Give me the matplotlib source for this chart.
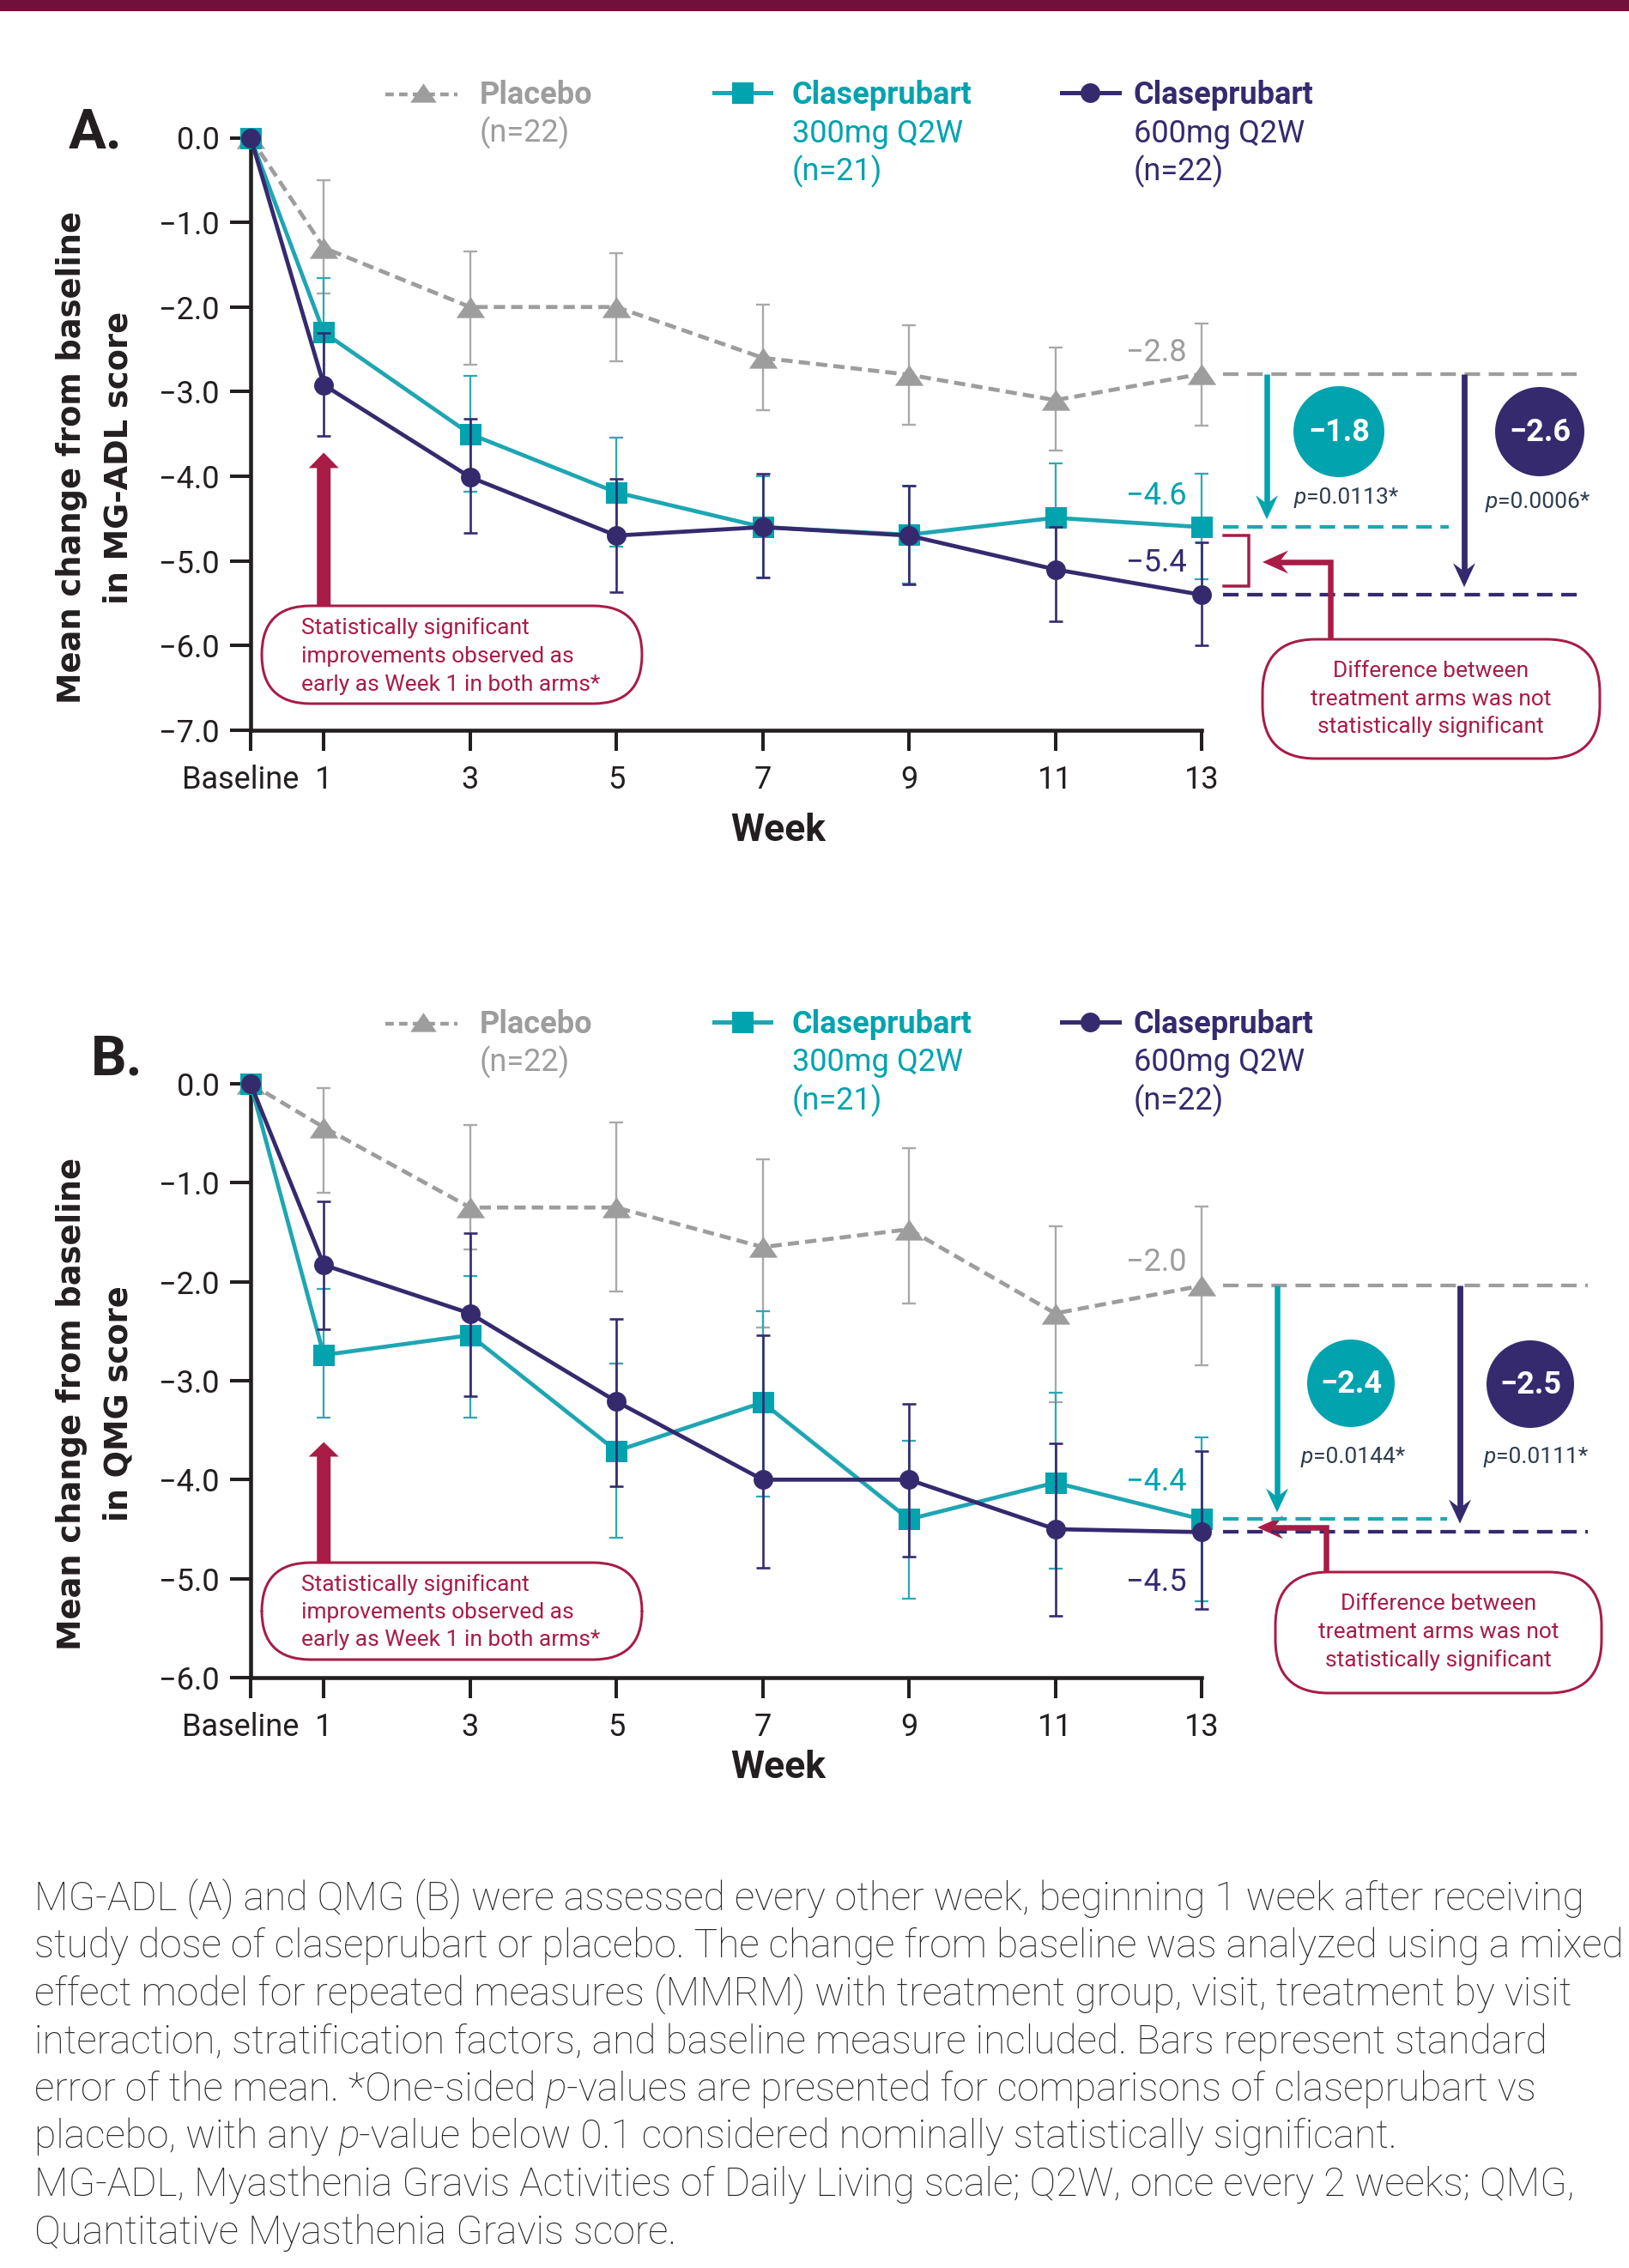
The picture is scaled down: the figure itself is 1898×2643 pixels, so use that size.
import numpy as np
import matplotlib
matplotlib.use('Agg')
import matplotlib.pyplot as plt
from matplotlib.patches import FancyBboxPatch, Circle, Polygon, Rectangle
from matplotlib.lines import Line2D
import matplotlib.transforms as mtrans

W, H, DPI = 1899, 2643, 100

# ---------------- data ----------------
weeks = [0, 1, 3, 5, 7, 9, 11, 13]
week_labels = ['Baseline', '1', '3', '5', '7', '9', '11', '13']

# Panel A: MG-ADL (mean, upper and lower end of SE bar)
a_placebo    = [0.0, -1.30, -2.00, -2.00, -2.60, -2.80, -3.10, -2.79]
a_placebo_hi = [0.0, -0.50, -1.34, -1.36, -1.97, -2.22, -2.48, -2.19]
a_placebo_lo = [0.0, -1.84, -2.68, -2.64, -3.22, -3.39, -3.70, -3.40]
a_300    = [0.0, -2.30, -3.50, -4.19, -4.60, -4.69, -4.49, -4.60]
a_300_hi = [0.0, -1.66, -2.81, -3.54, -4.00, -4.11, -3.85, -3.97]
a_300_lo = [0.0, -2.94, -4.18, -4.83, -5.20, -5.27, -5.13, -5.22]
a_600    = [0.0, -2.92, -4.01, -4.70, -4.60, -4.70, -5.10, -5.40]
a_600_hi = [0.0, -2.31, -3.32, -4.03, -3.97, -4.11, -4.60, -4.78]
a_600_lo = [0.0, -3.52, -4.67, -5.37, -5.20, -5.28, -5.71, -6.00]
a_diff = [-1.8, -2.6]
a_p = ['0.0113', '0.0006']

# Panel B: QMG
b_placebo    = [0.0, -0.44, -1.25, -1.25, -1.65, -1.47, -2.32, -2.04]
b_placebo_hi = [0.0, -0.04, -0.42, -0.39, -0.76, -0.65, -1.44, -1.24]
b_placebo_lo = [0.0, -1.10, -1.67, -2.10, -2.46, -2.22, -3.22, -2.84]
b_300    = [0.0, -2.74, -2.54, -3.71, -3.22, -4.40, -4.03, -4.40]
b_300_hi = [0.0, -2.07, -1.94, -2.83, -2.30, -3.61, -3.12, -3.57]
b_300_lo = [0.0, -3.37, -3.37, -4.59, -4.17, -5.20, -4.90, -5.23]
b_600    = [0.0, -1.83, -2.32, -3.21, -4.00, -4.00, -4.50, -4.53]
b_600_hi = [0.0, -1.19, -1.51, -2.38, -2.54, -3.23, -3.63, -3.71]
b_600_lo = [0.0, -2.48, -3.16, -4.07, -4.89, -4.78, -5.38, -5.31]
b_diff = [-2.4, -2.5]
b_p = ['0.0144', '0.0111']

legend_text = [['Placebo', '(n=22)'],
               ['Claseprubart', '300mg Q2W', '(n=21)'],
               ['Claseprubart', '600mg Q2W', '(n=22)']]
ylabels_a = ['Mean change from baseline', 'in MG-ADL score']
ylabels_b = ['Mean change from baseline', 'in QMG score']
note_sig = ['Statistically significant', 'improvements observed as',
            'early as Week 1 in both arms*']
note_ns = ['Difference between', 'treatment arms was not',
           'statistically significant']
footnote = [
    [("MG-ADL (A) and QMG (B) were assessed every other week, beginning 1 week after receiving", 'normal')],
    [("study dose of claseprubart or placebo. The change from baseline was analyzed using a mixed", 'normal')],
    [("effect model for repeated measures (MMRM) with treatment group, visit, treatment by visit", 'normal')],
    [("interaction, stratification factors, and baseline measure included. Bars represent standard", 'normal')],
    [("error of the mean. *One-sided ", 'normal'), ("p", 'italic'),
     ("-values are presented for comparisons of claseprubart vs", 'normal')],
    [("placebo, with any ", 'normal'), ("p", 'italic'),
     ("-value below 0.1 considered nominally statistically significant.", 'normal')],
    [("MG-ADL, Myasthenia Gravis Activities of Daily Living scale; Q2W, once every 2 weeks; QMG,", 'normal')],
    [("Quantitative Myasthenia Gravis score.", 'normal')],
]

# ---------------- style ----------------
GREY = '#9d9d9d'
GREY_BAR = '#a9a9a9'
TEAL = '#00a3ae'
TEAL_LINE = '#1ea6b2'
TEAL_BAR = '#2aa9b5'
NAVY = '#352a6e'
RED = '#a81c46'
DARK = '#231f20'
PTXT = '#2e3d4f'
FOOT = '#2a2a2a'
PX = 72.0 / DPI  # points per pixel

plt.rcParams['font.family'] = ['Roboto', 'DejaVu Sans']
plt.rcParams['axes.unicode_minus'] = True

fig = plt.figure(figsize=(W / DPI, H / DPI), dpi=DPI)
fig.patch.set_facecolor('white')
renderer = fig.canvas.get_renderer()

ovl = fig.add_axes([0, 0, 1, 1], zorder=10)
ovl.set_xlim(0, W)
ovl.set_ylim(H, 0)
ovl.axis('off')
ovl.patch.set_alpha(0)

AX_L, AX_R = 292, 1400
TRI = [(0, 0.73), (-1, -0.73), (1, -0.73)]


def minus(v, fmt="{:.1f}"):
    return fmt.format(v).replace('-', '\u2212')


def px(ax, x, y):
    X, Y = ax.transData.transform((x, y))
    return X, H - Y


def make_axes(top_px, bottom_px):
    return fig.add_axes([AX_L / W, 1 - bottom_px / H,
                         (AX_R - AX_L) / W, (bottom_px - top_px) / H])


def draw_panel(ax, ymin, series):
    ax.set_xlim(weeks[0], weeks[-1])
    ax.set_ylim(ymin, 0)
    x = np.array(weeks, dtype=float)
    for i, (mean, hi, lo, st) in enumerate(series):
        mean, hi, lo = np.array(mean), np.array(hi), np.array(lo)
        z = 2 + i
        ax.errorbar(x[1:], mean[1:], yerr=[mean[1:] - lo[1:], hi[1:] - mean[1:]],
                    fmt='none', ecolor=st['bar'], elinewidth=st['elw'],
                    capsize=5.5, capthick=st['elw'], zorder=z, clip_on=False)
        ax.plot(x, mean, color=st['line'], lw=3.4, ls=st['ls'],
                marker=st['marker'], ms=st['ms'], mfc=st['color'],
                mec=st['color'], mew=0, zorder=z + 0.1, clip_on=False)
    for s in ['top', 'right']:
        ax.spines[s].set_visible(False)
    for s in ['left', 'bottom']:
        ax.spines[s].set_linewidth(3.3)
        ax.spines[s].set_color(DARK)
    ax.set_xticks(weeks)
    ax.set_xticklabels(week_labels)
    yt = np.arange(0, ymin - 0.5, -1.0)
    ax.set_yticks(yt)
    ax.set_yticklabels([minus(v) if v != 0 else '0.0' for v in yt])
    ax.tick_params(axis='both', direction='out', length=17.5, width=2.9,
                   color=DARK, labelsize=26, labelcolor=DARK)
    ax.tick_params(axis='x', pad=11)
    ax.tick_params(axis='y', pad=8.5)
    lbl = ax.get_xticklabels()[0]
    lbl.set_transform(lbl.get_transform() +
                      mtrans.ScaledTranslation(-0.12, 0, fig.dpi_scale_trans))
    ax.patch.set_alpha(0)


st_pl = dict(color=GREY, line=GREY, bar=GREY_BAR, elw=1.7, ls=(0, (2.8, 1.5)),
             marker=TRI, ms=24)
st_300 = dict(color=TEAL, line=TEAL_LINE, bar=TEAL_BAR, elw=1.6, ls='-',
              marker='s', ms=18)
st_600 = dict(color=NAVY, line=NAVY, bar=NAVY, elw=1.9, ls='-',
              marker='o', ms=16.5)

axA = make_axes(160.5, 851)
draw_panel(axA, -7.0, [(a_placebo, a_placebo_hi, a_placebo_lo, st_pl),
                       (a_300, a_300_hi, a_300_lo, st_300),
                       (a_600, a_600_hi, a_600_lo, st_600)])
axB = make_axes(1263, 1955)
draw_panel(axB, -6.0, [(b_placebo, b_placebo_hi, b_placebo_lo, st_pl),
                       (b_300, b_300_hi, b_300_lo, st_300),
                       (b_600, b_600_hi, b_600_lo, st_600)])


# ---------------- overlay helpers ----------------
def text_w(s, **kw):
    t = ovl.text(0, 0, s + '|', **kw)
    w1 = t.get_window_extent(renderer=renderer).width
    t.remove()
    t = ovl.text(0, 0, '|', **kw)
    w2 = t.get_window_extent(renderer=renderer).width
    t.remove()
    return w1 - w2


def runs(x, y, parts, size, color, weight='normal', va='baseline'):
    for s, style in parts:
        kw = dict(fontsize=size, color=color, fontweight=weight, fontstyle=style)
        ovl.text(x, y, s, ha='left', va=va, **kw)
        x += text_w(s, **kw)


def arrow(x0, y0, x1, y1, color, lw_px, hl, hw, notch=0.35, pts=None):
    """Line (optionally polyline pts) ending with a stealth head at (x1, y1)."""
    if pts is None:
        pts = [(x0, y0)]
    d = np.array([x1 - pts[-1][0], y1 - pts[-1][1]], float)
    d /= np.hypot(*d)
    n = np.array([-d[1], d[0]])
    tip = np.array([x1, y1], float)
    base = tip - d * hl
    inner = base + d * hl * notch
    xs = [p[0] for p in pts] + [inner[0]]
    ys = [p[1] for p in pts] + [inner[1]]
    ovl.add_line(Line2D(xs, ys, color=color, lw=lw_px * PX,
                        solid_capstyle='butt', solid_joinstyle='miter'))
    ovl.add_patch(Polygon([tip, base + n * hw / 2, inner, base - n * hw / 2],
                          closed=True, facecolor=color, edgecolor='none'))


def block_arrow_up(x, y_tip, y_base, shaft, hw, hl, color):
    ovl.add_patch(Polygon([(x - shaft / 2, y_base), (x - shaft / 2, y_tip + hl),
                           (x - hw / 2, y_tip + hl), (x, y_tip),
                           (x + hw / 2, y_tip + hl), (x + shaft / 2, y_tip + hl),
                           (x + shaft / 2, y_base)], closed=True,
                          facecolor=color, edgecolor='none'))


def pill(x0, y0, x1, y1, r):
    ovl.add_patch(FancyBboxPatch((x0, y0), x1 - x0, y1 - y0,
                                 boxstyle=f"round,pad=0,rounding_size={r}",
                                 facecolor='white', edgecolor=RED, lw=3.0 * PX))


# top bar
ovl.add_patch(Rectangle((0, 0), W, 13, facecolor='#72103c', edgecolor='none'))


def legend(y0):
    base = [y0, y0 + 44.5, y0 + 89]
    ovl.add_line(Line2D([449, 533], [base[0] - 11] * 2, color=GREY, lw=3.2,
                        ls=(0, (2.2, 1.4))))
    ovl.add_line(Line2D([493], [base[0] - 13], marker=TRI, ms=22, color=GREY, mew=0))
    ovl.add_line(Line2D([832, 898], [base[0] - 13] * 2, color=TEAL_LINE, lw=3.6))
    ovl.add_line(Line2D([865], [base[0] - 13], marker='s', ms=18, color=TEAL, mew=0))
    ovl.add_line(Line2D([1237, 1304], [base[0] - 13] * 2, color=NAVY, lw=3.6))
    ovl.add_line(Line2D([1270], [base[0] - 13], marker='o', ms=16.5, color=NAVY, mew=0))
    for xt, lines, col in zip([559, 923, 1321], legend_text, [GREY, TEAL, NAVY]):
        for k, s in enumerate(lines):
            ovl.text(xt, base[k], s, fontsize=26, color=col,
                     fontweight='bold' if k == 0 else 'normal', va='baseline')


def right_side(ax, pl, t3, t6, lab_off, teal_end, full_end, ax_teal, ax_navy,
               circles, pvals, diffs, tip_gap):
    x13, ypl = px(ax, weeks[-1], pl[-1])
    _, y3 = px(ax, weeks[-1], t3[-1])
    _, y6 = px(ax, weeks[-1], t6[-1])
    for (yy, col, val), off in zip([(ypl, GREY, pl[-1]), (y3, TEAL, t3[-1]),
                                    (y6, NAVY, t6[-1])], lab_off):
        ovl.text(x13 - 17, yy + off, minus(val), fontsize=26, color=col,
                 ha='right', va='center')
    xs = x13 + 25
    for yy, col, xe in [(ypl, GREY, full_end), (y3, TEAL_LINE, teal_end),
                        (y6, NAVY, full_end)]:
        ovl.add_line(Line2D([xs, xe], [yy, yy], color=col, lw=4.2 * PX,
                            ls=(0, (4.3, 2.4))))
    arrow(ax_teal, ypl, ax_teal, y3 - tip_gap[0], TEAL, 6.5, 28, 26)
    arrow(ax_navy, ypl, ax_navy, y6 - tip_gap[1], NAVY, 6.8, 28, 26)
    for (cx, cy, r), col, dv in zip(circles, [TEAL, NAVY], diffs):
        ovl.add_patch(Circle((cx, cy), r, facecolor=col, edgecolor='none'))
        ovl.text(cx, cy + 1, minus(dv), fontsize=26, fontweight='bold',
                 color='white', ha='center', va='center')
    for (xp, yp), pv in zip(pvals[0], pvals[1]):
        runs(xp, yp, [('p', 'italic'), ('=' + pv + '*', 'normal')], 19, PTXT)


# ---------------- panel A overlay ----------------
legend(121)
ovl.text(80, 155, 'A.', fontsize=47, fontweight='bold', color=DARK,
         ha='left', va='center')
for xl, s in zip([84, 138], ylabels_a):
    ovl.text(xl, 533, s, rotation=90, fontsize=26.5, fontweight='bold',
             family='DejaVu Sans', color=DARK, ha='center', va='center')
ovl.text(907, 968, 'Week', fontsize=32, fontweight='bold', color=DARK,
         ha='center', va='center')
right_side(axA, a_placebo, a_300, a_600, [-25, -36, -37], 1688, 1845, 1476, 1706,
           [(1560, 503, 53), (1794, 503, 52)],
           ([(1508, 587), (1731, 592)], a_p), a_diff, (9, 9))
ovl.add_line(Line2D([1426, 1455, 1455, 1426], [624, 624, 683, 683], color=RED,
                    lw=3.5 * PX, solid_joinstyle='miter'))
arrow(None, None, 1471, 655, RED, 6.5, 30, 27, pts=[(1550, 745), (1550, 655)])
pill(1471, 745, 1864, 884, 62)
for k, s in enumerate(note_ns):
    ovl.text(1667, 782 + 32.5 * k, s, fontsize=19, color=RED, ha='center', va='center')
xw1, ytip = px(axA, 1, -3.72)
block_arrow_up(xw1, ytip, 708, 16, 35, 18, RED)
pill(305, 706, 748, 820, 57)
for k, s in enumerate(note_sig):
    ovl.text(351, 732 + 33 * k, s, fontsize=19, color=RED, ha='left', va='center')

# ---------------- panel B overlay ----------------
legend(1204)
ovl.text(106, 1235, 'B.', fontsize=47, fontweight='bold', color=DARK,
         ha='left', va='center')
for xl, s in zip([84, 138], ylabels_b):
    ovl.text(xl, 1636, s, rotation=90, fontsize=26.5, fontweight='bold',
             family='DejaVu Sans', color=DARK, ha='center', va='center')
ovl.text(907, 2060, 'Week', fontsize=32, fontweight='bold', color=DARK,
         ha='center', va='center')
right_side(axB, b_placebo, b_300, b_600, [-27, -43, 59], 1686, 1850, 1488, 1701,
           [(1574, 1612, 51), (1783, 1613, 51)],
           ([(1516, 1705), (1729, 1705)], b_p), b_diff, (8, 10))
arrow(None, None, 1465, 1780, RED, 6.5, 30, 27, pts=[(1545, 1832), (1545, 1780)])
pill(1486, 1832, 1866, 1973, 62)
for k, s in enumerate(note_ns):
    ovl.text(1676, 1869 + 33 * k, s, fontsize=19, color=RED, ha='center', va='center')
xw1, ytip = px(axB, 1, -3.62)
block_arrow_up(xw1, ytip, 1823, 16, 35, 17, RED)
pill(305, 1821, 748, 1934, 57)
for k, s in enumerate(note_sig):
    ovl.text(351, 1847 + 32 * k, s, fontsize=19, color=RED, ha='left', va='center')

# ---------------- footnote ----------------
fs = 29.0
w_ref = text_w(footnote[1][0][0], fontsize=fs, fontweight='light')
fs = fs * 1851.0 / w_ref
for k, parts in enumerate(footnote):
    runs(40, 2226 + 55.5 * k, parts, fs, FOOT, weight='light')

fig.savefig('out.png', dpi=DPI, facecolor='white')
